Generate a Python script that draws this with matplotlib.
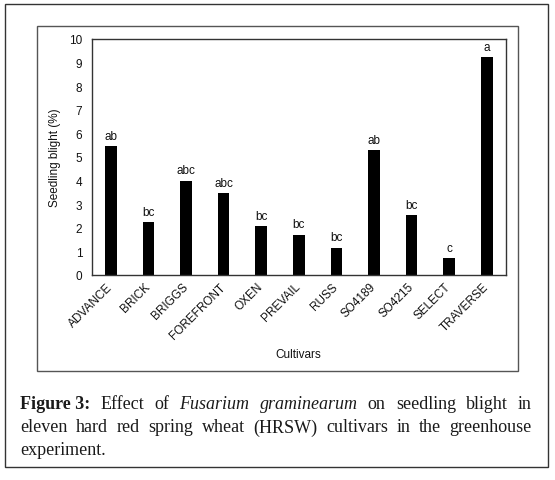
import numpy as np
import matplotlib.pyplot as plt
from matplotlib.patches import Rectangle

# Data
cultivars = ['ADVANCE', 'BRICK', 'BRIGGS', 'FOREFRONT', 'OXEN', 'PREVAIL',
             'RUSS', 'SO4189', 'SO4215', 'SELECT', 'TRAVERSE']
blight = [5.45, 2.23, 4.0, 3.47, 2.08, 1.71, 1.16, 5.30, 2.53, 0.71, 9.25]
groups = ['ab', 'bc', 'abc', 'abc', 'bc', 'bc', 'bc', 'ab', 'bc', 'c', 'a']
yticks = list(range(0, 11))

W, H = 555, 481
plt.rcParams['font.family'] = ['Liberation Sans', 'DejaVu Sans']

fig = plt.figure(figsize=(W / 100, H / 100), dpi=100)


def px_box(x0, y0, x1, y1):
    """pixel box (top-left origin) -> figure fraction rect"""
    return [x0 / W, 1 - y1 / H, (x1 - x0) / W, (y1 - y0) / H]


# outer frame and inner chart frame
fig.patches.append(Rectangle((5 / W, 1 - 468 / H), 543 / W, 463 / H, transform=fig.transFigure,
                             fill=False, edgecolor='#333333', linewidth=1.0))
fig.patches.append(Rectangle((37 / W, 1 - 372 / H), 481 / W, 345 / H, transform=fig.transFigure,
                             fill=False, edgecolor='#555555', linewidth=1.0))

ax = fig.add_axes(px_box(92, 40, 505.5, 276))
x = np.arange(len(cultivars))
ax.bar(x, blight, width=0.31, color='black')
for xi, v, g in zip(x, blight, groups):
    ax.annotate(g, (xi, v), xytext=(0, 3), textcoords='offset points',
                ha='center', va='bottom', fontsize=8.5, color='#111111')

ax.set_xlim(-0.5, len(cultivars) - 0.5)
ax.set_ylim(0, 10)
ax.set_yticks(yticks)
ax.set_xticks(x)
ax.set_xticklabels(cultivars, rotation=45, ha='right', va='center',
                   rotation_mode='anchor', fontsize=8.5)
ax.tick_params(axis='x', length=0, pad=7, colors='#111111')
ax.tick_params(axis='y', length=0, pad=7, labelsize=8.5, colors='#111111')
for s in ax.spines.values():
    s.set_color('#333333')
    s.set_linewidth(1.0)
ax.set_ylabel('Seedling blight (%)', fontsize=8.5, color='#111111')
ax.yaxis.set_label_coords((61 - 92) / 413.5, 0.5)
fig.text(298 / W, 1 - 355 / H, 'Cultivars', ha='center', va='center',
         fontsize=8.5, color='#111111')

# caption, justified like the journal layout
serif = ['Liberation Serif', 'DejaVu Serif']
cap_size = 13
lines = [
    [('Figure 3:', 'bold', 'normal'), ('Effect', 'normal', 'normal'), ('of', 'normal', 'normal'),
     ('Fusarium', 'normal', 'italic'), ('graminearum', 'normal', 'italic'),
     ('on', 'normal', 'normal'), ('seedling', 'normal', 'normal'), ('blight', 'normal', 'normal'),
     ('in', 'normal', 'normal')],
    [(w, 'normal', 'normal') for w in
     'eleven hard red spring wheat (HRSW) cultivars in the greenhouse'.split()],
    [('experiment.', 'normal', 'normal')],
]
line_y = [405, 428, 451]
left_px, right_px = 20, 532

fig.canvas.draw()
renderer = fig.canvas.get_renderer()
for li, (words, ly) in enumerate(zip(lines, line_y)):
    texts = []
    widths = []
    for w, weight, style in words:
        t = fig.text(0, 1 - ly / H, w, fontsize=cap_size, family=serif, weight=weight,
                     style=style, ha='left', va='center', color='#1a1a1a')
        texts.append(t)
        widths.append(t.get_window_extent(renderer).width)
    if li < len(lines) - 1 and len(words) > 1:
        gap = (right_px - left_px - sum(widths)) / (len(words) - 1)
    else:
        gap = cap_size * 0.3
    cur = left_px
    for t, wd in zip(texts, widths):
        t.set_x(cur / W)
        cur += wd + gap

fig.savefig('out.png', dpi=100)
